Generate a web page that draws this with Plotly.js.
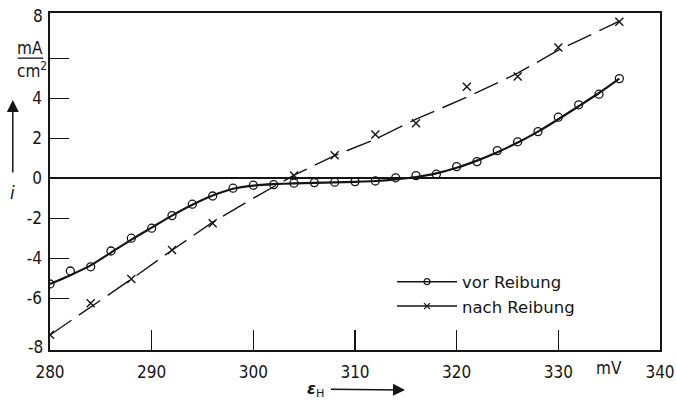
<!DOCTYPE html>
<html><head><meta charset="utf-8">
<script src="https://cdn.plot.ly/plotly-3.0.1.min.js"></script>
<style>
html,body{margin:0;padding:0;background:#fff}
#chart{width:676px;height:401px}
</style>
</head><body><div id="chart"></div>
<script>
// "vor Reibung" measured points (circles)
const vorX = [280,282,284,286,288,290,292,294,296,298,300,302,304,306,308,310,312,314,316,318,320,322,324,326,328,330,332,334,336];
const vorY = [-5.29,-4.64,-4.43,-3.64,-3.0,-2.5,-1.87,-1.3,-0.89,-0.5,-0.35,-0.32,-0.25,-0.22,-0.2,-0.17,-0.14,0.02,0.13,0.2,0.58,0.83,1.38,1.82,2.33,3.05,3.67,4.2,4.98];
// smooth drawn curve for "vor Reibung"
const vorCurveX = [280,282,284,286,288,290,292,294,296,298,300,302,304,306,308,310,312,314,316,318,320,322,324,326,328,330,332,334,336];
const vorCurveY = [-5.29,-4.85,-4.36,-3.72,-3.07,-2.47,-1.87,-1.33,-0.87,-0.53,-0.37,-0.3,-0.26,-0.23,-0.21,-0.18,-0.14,-0.06,0.06,0.24,0.52,0.88,1.3,1.78,2.33,2.95,3.6,4.26,4.98];
// "nach Reibung" measured points (crosses)
const nachX = [280,284,288,292,296,304,308,312,316,321,326,330,336];
const nachY = [-7.83,-6.25,-5.04,-3.59,-2.25,0.13,1.15,2.18,2.75,4.57,5.08,6.53,7.82];
// drawn line for "nach Reibung"
const nachLineX = [280,284,288,292,296,300,304,308,312,316,321,326,330,336];
const nachLineY = [-7.84,-6.45,-5.05,-3.6,-2.2,-1.0,0.15,1.13,1.95,2.95,4.05,5.25,6.4,7.85];
// ticks
const xTickVals = [280,290,300,310,320,330,340];
const xTickText = ["280","290","300","310","320","330","340"];
const yTickVals = [-6,-4,-2,0,2,4];
const yTickText = ["-6","-4","-2","0","2","4"];
const yUnlabelledTicks = [6];
const seriesNames = ["vor Reibung","nach Reibung"];

const INK = '#151515';
const tickFont = {family:'"DejaVu Sans Condensed","DejaVu Sans",sans-serif', size:17, color:INK};

const traces = [
  {x:vorCurveX, y:vorCurveY, mode:'lines', line:{color:INK, width:2.2, shape:'spline', smoothing:0.6}, showlegend:false, hoverinfo:'skip'},
  {x:vorX, y:vorY, mode:'markers', marker:{symbol:'circle-open', size:8, color:INK, line:{width:1.3, color:INK}}, showlegend:false},
  {x:nachLineX, y:nachLineY, mode:'lines', line:{color:INK, width:1.4, dash:'26px,9px'}, showlegend:false, hoverinfo:'skip'},
  {x:nachX, y:nachY, mode:'markers', marker:{symbol:'x-thin-open', size:8, color:INK, line:{width:1.4, color:INK}}, showlegend:false},
  {x:[null], y:[null], name:seriesNames[0], mode:'lines+markers', line:{color:INK, width:1.5}, marker:{symbol:'circle-open', size:6, color:INK, line:{width:1.2, color:INK}}},
  {x:[null], y:[null], name:seriesNames[1], mode:'lines+markers', line:{color:INK, width:1.5}, marker:{symbol:'x-thin-open', size:6, color:INK, line:{width:1.2, color:INK}}}
];

const layout = {
  width:676, height:401,
  margin:{l:50, r:16, t:13, b:51},
  paper_bgcolor:'#fff', plot_bgcolor:'#fff',
  showlegend:true,
  legend:{x:0.5607, y:0.254, xanchor:'left', yanchor:'top', bgcolor:'rgba(0,0,0,0)', itemwidth:60,
          font:{family:'"DejaVu Sans",sans-serif', size:16.5, color:INK}, tracegroupgap:0},
  xaxis:{range:[280,340], tickvals:xTickVals, ticktext:xTickText, ticks:'inside', ticklen:20, tickwidth:1.3, tickcolor:INK,
         showline:true, linecolor:INK, linewidth:1.6, mirror:true, showgrid:false, zeroline:false,
         tickfont:tickFont, ticklabelstandoff:6},
  yaxis:{range:[-8.59,8.26], tickvals:yTickVals, ticktext:yTickText, ticks:'inside', ticklen:19, tickwidth:1.3, tickcolor:INK,
         minor:{tickvals:yUnlabelledTicks, ticks:'inside', ticklen:19, tickwidth:1.3, tickcolor:INK, showgrid:false},
         showline:true, linecolor:INK, linewidth:1.6, mirror:true, showgrid:false, zeroline:true, zerolinecolor:INK, zerolinewidth:1.5,
         tickfont:tickFont, ticklabelstandoff:3},
  shapes:[
    {type:'line', xref:'paper', yref:'paper', x0:-0.053, x1:-0.011, y0:0.866, y1:0.866, line:{color:INK, width:1.3}}
  ],
  annotations:[
    {xref:'paper', yref:'paper', x:0, y:1, xanchor:'right', yanchor:'middle', xshift:-5, yshift:-3, text:'8', showarrow:false, font:tickFont},
    {xref:'paper', yref:'paper', x:0, y:0, xanchor:'right', yanchor:'middle', xshift:-5, yshift:3, text:'-8', showarrow:false, font:tickFont},
    {xref:'paper', yref:'paper', x:-0.032, y:0.866, xanchor:'center', yanchor:'bottom', yshift:-2, text:'mA', showarrow:false, font:tickFont},
    {xref:'paper', yref:'paper', x:-0.030, y:0.866, xanchor:'center', yanchor:'top', yshift:1, text:'cm<sup>2</sup>', showarrow:false, font:tickFont},
    {xref:'paper', yref:'paper', x:-0.061, y:0.466, xanchor:'center', yanchor:'middle', text:'<i>i</i>', showarrow:false,
     font:{family:'"DejaVu Sans",sans-serif', size:17, color:INK}},
    {xref:'paper', yref:'paper', x:-0.061, y:0.742, ax:0, ay:74, text:'', showarrow:true, startstandoff:0,
     arrowhead:2, arrowsize:1.6, arrowwidth:1.5, arrowcolor:INK},
    {xref:'x', yref:'paper', x:335, y:0, xanchor:'center', yanchor:'top', yshift:-6, text:'mV', showarrow:false, font:tickFont},
    {xref:'paper', yref:'paper', x:0.582, y:0, yshift:-40, ax:-90, ay:-1, text:'<b><i>ε</i></b><sub>H</sub>', showarrow:true, startstandoff:6,
     arrowhead:2, arrowsize:1.6, arrowwidth:1.5, arrowcolor:INK, font:{family:'"DejaVu Sans",sans-serif', size:16, color:INK}}
  ]
};

Plotly.newPlot('chart', traces, layout, {displayModeBar:false, staticPlot:true});
</script>
</body></html>
